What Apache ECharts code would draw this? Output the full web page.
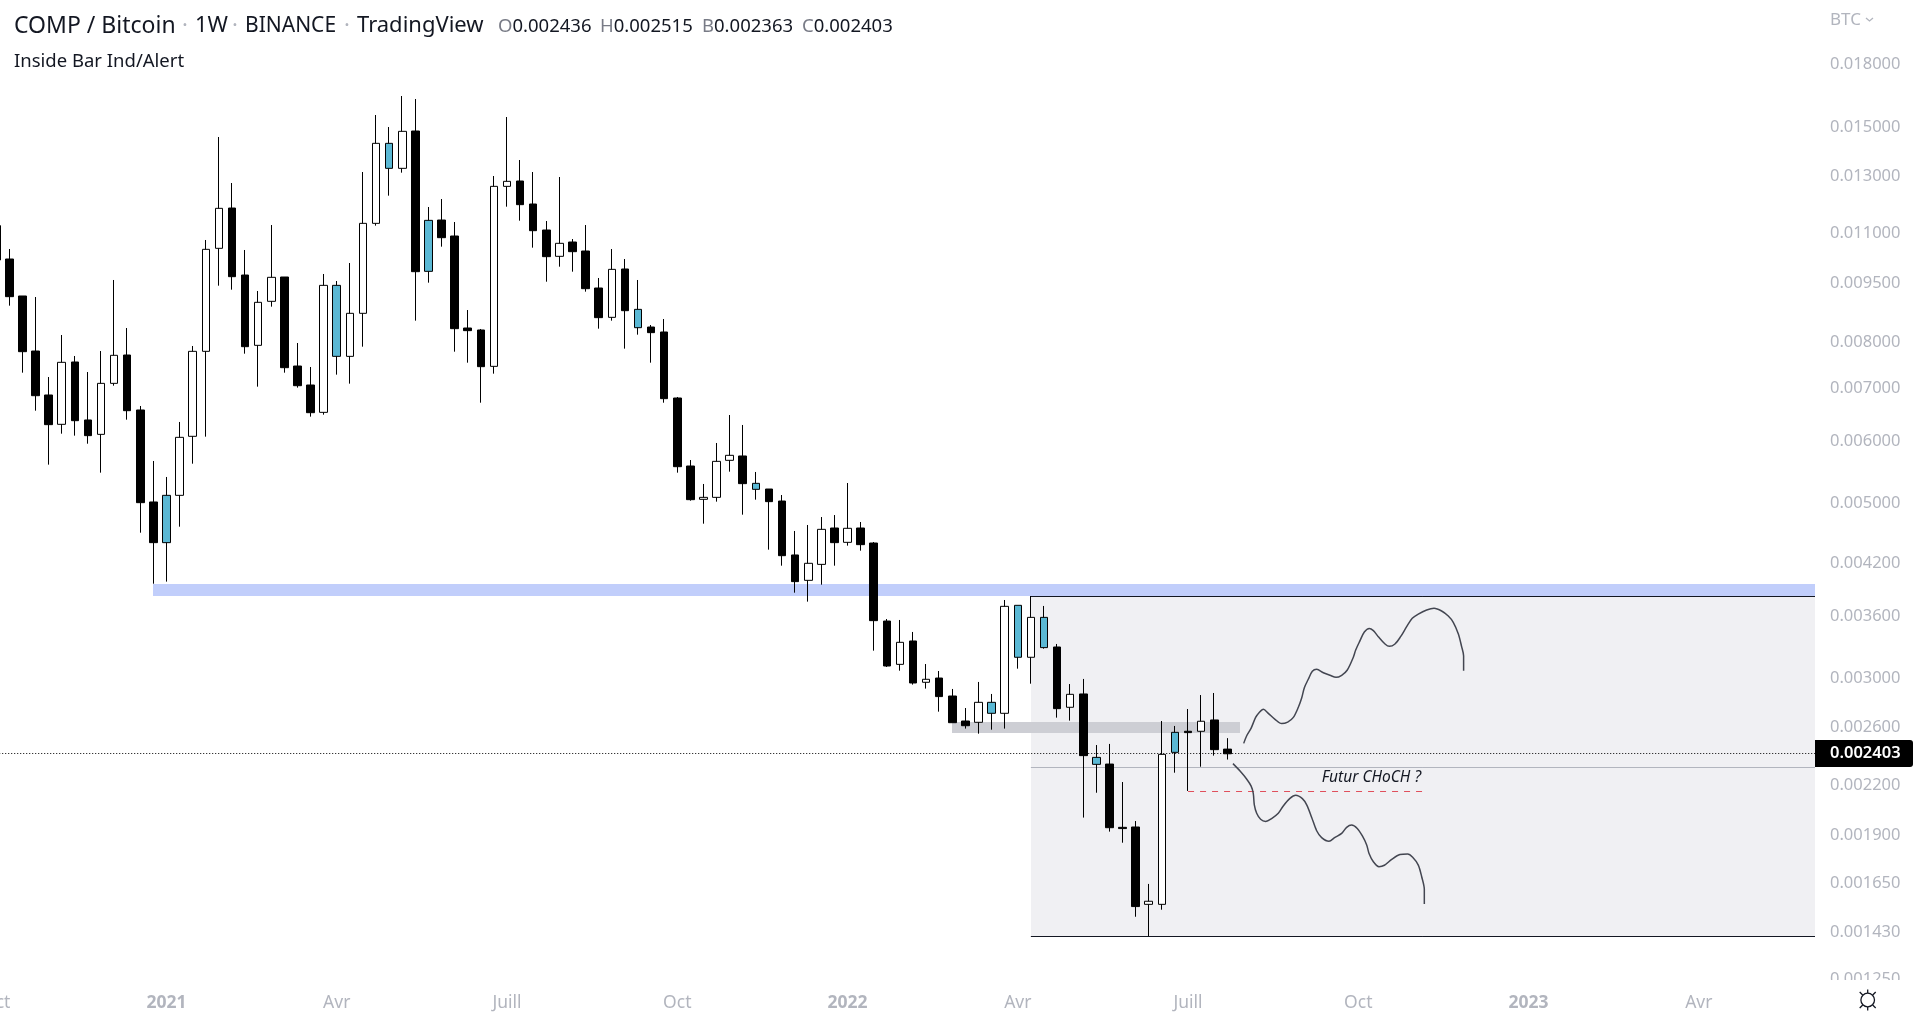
<!DOCTYPE html><html><head><meta charset="utf-8"><script src="https://cdn.jsdelivr.net/npm/echarts@6/dist/echarts.min.js"></script>
<style>html,body{margin:0;background:#fff}#c{width:1920px;height:1014px}</style></head><body><div id="c"></div><script>
const FONT='"Noto Sans"';
const opens=[0.011211,0.010172,0.009132,0.007778,0.006842,0.006281,0.007533,0.006361,0.006100,0.007078,0.007688,0.006549,0.005008,0.004448,0.005106,0.006065,0.007771,0.010494,0.011803,0.009708,0.007908,0.008991,0.009652,0.007445,0.007044,0.006504,0.009420,0.007658,0.008682,0.011287,0.014253,0.013251,0.014775,0.009813,0.011397,0.010878,0.008318,0.008270,0.007438,0.012573,0.012770,0.011942,0.011070,0.010252,0.010689,0.010412,0.009347,0.008581,0.009880,0.008783,0.008342,0.008222,0.006782,0.005562,0.005047,0.005076,0.005655,0.005727,0.005288,0.005201,0.005022,0.004291,0.003985,0.004175,0.004642,0.004452,0.004642,0.004443,0.003539,0.003119,0.003339,0.002960,0.002997,0.002844,0.002644,0.002634,0.002792,0.002704,0.003705,0.003184,0.003577,0.003281,0.002752,0.002861,0.002378,0.002332,0.001939,0.001941,0.001549,0.001549,0.002413,0.002566,0.002566,0.002652,0.002436];
const closes=[0.010143,0.009114,0.007763,0.006828,0.006275,0.007526,0.006348,0.006077,0.007078,0.007681,0.006536,0.004998,0.004448,0.005106,0.006047,0.007771,0.010463,0.011792,0.009661,0.007877,0.008965,0.009643,0.007409,0.007030,0.006498,0.009420,0.007658,0.008682,0.011287,0.014253,0.013251,0.014761,0.009803,0.011386,0.010825,0.008302,0.008254,0.007431,0.012573,0.012758,0.011919,0.011048,0.010242,0.010648,0.010392,0.009329,0.008573,0.009870,0.008749,0.008326,0.008206,0.006769,0.005551,0.005042,0.005076,0.005638,0.005738,0.005283,0.005196,0.005013,0.004282,0.003970,0.004188,0.004624,0.004448,0.004638,0.004422,0.003543,0.003104,0.003326,0.002954,0.002986,0.002839,0.002631,0.002608,0.002792,0.002704,0.003694,0.003184,0.003577,0.003275,0.002741,0.002858,0.002390,0.002330,0.001937,0.001932,0.001539,0.001563,0.002399,0.002558,0.002556,0.002642,0.002432,0.002403];
const lows=[0.010143,0.008878,0.007302,0.006536,0.005584,0.006112,0.006077,0.005936,0.005455,0.007030,0.006367,0.004579,0.003946,0.003970,0.004660,0.005600,0.006059,0.009411,0.009302,0.007718,0.007010,0.008852,0.007302,0.006990,0.006423,0.006460,0.007260,0.007072,0.007877,0.011211,0.012236,0.013084,0.008498,0.009494,0.010545,0.007763,0.007518,0.006690,0.007281,0.011849,0.011375,0.010514,0.009521,0.009947,0.009803,0.009248,0.008302,0.008498,0.007832,0.008158,0.007518,0.006690,0.005455,0.005027,0.004701,0.005013,0.005471,0.004826,0.005042,0.004358,0.004159,0.003844,0.003745,0.003935,0.004159,0.004409,0.004345,0.003246,0.003095,0.003062,0.002940,0.002906,0.002717,0.002631,0.002586,0.002548,0.002578,0.002586,0.003080,0.002948,0.003265,0.002670,0.002647,0.001995,0.002145,0.001915,0.001854,0.001494,0.001412,0.001525,0.002274,0.002156,0.002314,0.002390,0.002363];
const highs=[0.011211,0.010473,0.009132,0.009105,0.007210,0.008150,0.007666,0.007316,0.007778,0.009568,0.008318,0.006626,0.005644,0.005387,0.006324,0.007893,0.010752,0.014519,0.012696,0.010443,0.009266,0.011232,0.009652,0.007962,0.007424,0.009737,0.009540,0.010054,0.013110,0.015481,0.014948,0.016363,0.016220,0.011838,0.012117,0.011331,0.008766,0.008294,0.012958,0.015391,0.013577,0.013110,0.011364,0.012920,0.010783,0.011232,0.009624,0.010473,0.010172,0.009568,0.008391,0.008539,0.006802,0.005660,0.005278,0.005948,0.006454,0.006269,0.005466,0.005201,0.005111,0.004602,0.004683,0.004793,0.004821,0.005293,0.004724,0.004456,0.003560,0.003550,0.003428,0.003122,0.003059,0.002903,0.002746,0.002963,0.002861,0.003763,0.003705,0.003807,0.003698,0.003310,0.002945,0.002989,0.002465,0.002473,0.002213,0.001975,0.001644,0.002644,0.002606,0.002738,0.002852,0.002869,0.002515];
// Index in opens/closes of the inside bars, drawn in teal
const insideBars=[13,26,30,33,49,58,76,78,80,84,90];
const tickLabels={0:'Oct',13:'2021',26:'Avr',39:'Juill',52:'Oct',65:'2022',78:'Avr',91:'Juill',104:'Oct',117:'2023',130:'Avr'};
const priceTicks=[0.018,0.015,0.013,0.011,0.0095,0.008,0.007,0.006,0.005,0.0042,0.0036,0.003,0.0026,0.0022,0.0019,0.00165,0.00143,0.00125];
const lastPrice=0.002403;
// zones: week offset from the first drawn bar minus one, and price bounds
const zoneStarts=[78,11,72];
const zoneEnds=[138,138,94];
const zoneTops=[0.0038071,0.0039427,0.0026364];
const zoneBottoms=[0.0014112,0.0038071,0.0025531];
const levelStarts=[78,78,78,90,-1];
const levelEnds=[138,138,138,108,138];
const levelPrices=[0.0038071,0.0014112,0.0023101,0.002154,lastPrice];
const upPathWeeks=[94.25,94.47,94.81,95.16,95.42,95.75,96.13,96.64,97.15,97.61,98.04,98.42,98.67,98.88,99.18,99.49,99.82,100.33,100.84,101.30,101.73,102.16,102.62,102.80,103.13,103.46,103.84,104.15,104.53,105.04,105.37,105.80,106.23,106.69,107.12,107.58,108.22,108.78,109.36,109.87,110.25,110.64,110.89,111.04,111.04];
const upPathPrices=[0.002477,0.002531,0.002588,0.002672,0.002709,0.002736,0.002704,0.002657,0.002624,0.002636,0.002672,0.002752,0.002825,0.002914,0.002986,0.003056,0.003074,0.003044,0.003021,0.003003,0.003021,0.003068,0.003184,0.003252,0.003342,0.003428,0.003464,0.003441,0.003381,0.003310,0.003287,0.003310,0.003381,0.003481,0.003567,0.003612,0.003655,0.003673,0.003644,0.003591,0.003526,0.003408,0.003284,0.003196,0.003062];
const downPathWeeks=[93.43,93.97,94.47,94.81,94.98,95.06,95.24,95.54,95.93,96.38,96.89,97.27,97.78,98.22,98.73,99.06,99.44,99.82,100.20,100.76,101.22,101.73,102.11,102.49,102.92,103.31,103.64,103.82,104.15,104.58,104.99,105.55,106.18,106.77,107.15,107.58,107.84,108.04,108.04];
const downPathPrices=[0.002335,0.002285,0.002233,0.002188,0.002141,0.002070,0.002020,0.001985,0.001973,0.001989,0.002020,0.002064,0.002110,0.002129,0.002108,0.002070,0.001996,0.001920,0.001882,0.001862,0.001883,0.001905,0.001939,0.001952,0.001933,0.001891,0.001842,0.001797,0.001754,0.001729,0.001736,0.001766,0.001791,0.001794,0.001777,0.001737,0.001679,0.001618,0.001551];

const categories=[];
for(let i=0;i<140;i++){categories.push(new Date(Date.UTC(2020,9,5+7*i)).toISOString().slice(0,10));}
const TEAL='#5ab8d4',GREY='#b2b5be';
const zoneColours=['#f0f0f3','#c1cefb','#cdced4'];
const levelStyles=[{stroke:'#131722',lineWidth:1},{stroke:'#131722',lineWidth:1},{stroke:'#b2b5be',lineWidth:1},{stroke:'#e0505c',lineWidth:1,lineDash:[6,6]},{stroke:'#000',lineWidth:1,lineDash:[1,2]}];
const candles=opens.map((o,i)=>{
  const item={value:[o,closes[i],lows[i],highs[i]]};
  if(insideBars.includes(i))item.itemStyle={color:TEAL,color0:TEAL};
  return item;
});
const snap=v=>Math.floor(v+0.1)+0.5;
const chart=echarts.init(document.getElementById('c'),null,{renderer:'canvas'});
const curve=(w,p)=>({type:'line',xAxisIndex:1,yAxisIndex:0,data:w.map((x,i)=>[x,p[i]]),showSymbol:false,smooth:0.3,z:6,silent:true,lineStyle:{color:'#434651',width:1.5},animation:false});
const TITLE='22px '+FONT;
const dot=x=>({type:'text',z:100,x,y:26,style:{text:'·',font:TITLE,fill:'#b2b5be',align:'center',verticalAlign:'middle'}});
chart.setOption({
  animation:false,backgroundColor:'#ffffff',
  grid:{left:-3.77,top:0,width:1820.47,height:980,containLabel:false,outerBoundsMode:'none'},
  xAxis:[
   {type:'category',data:categories,boundaryGap:false,axisLine:{show:false},axisTick:{show:false},splitLine:{show:false},
    axisLabel:{show:true,interval:i=>tickLabels[i]!==undefined,hideOverlap:false,showMinLabel:true,margin:14,
      formatter:(v,i)=>{const t=tickLabels[i];return /^\d/.test(t)?'{y|'+t+'}':t;},
      color:GREY,fontFamily:FONT,fontSize:17.5,rich:{y:{color:GREY,fontFamily:FONT,fontSize:17.5,fontWeight:'bold'}}}},
   {type:'value',min:-1,max:138,show:false,splitLine:{show:false}}
  ],
  yAxis:[{type:'log',logBase:10,min:0.0012423,max:0.02165,position:'right',axisLabel:{show:false},axisLine:{show:false},axisTick:{show:false},splitLine:{show:false},minorSplitLine:{show:false}}],
  series:[
   {type:'custom',name:'zones',xAxisIndex:1,yAxisIndex:0,z:1,silent:true,clip:false,
    data:zoneStarts.map((s,i)=>[s,zoneEnds[i],zoneTops[i],zoneBottoms[i],i]),
    renderItem:(p,api)=>{const a=api.coord([api.value(0),api.value(2)]),b=api.coord([api.value(1),api.value(3)]);
      const x=Math.round(a[0]),y=Math.round(a[1]);
      return {type:'rect',shape:{x,y,width:Math.min(Math.round(b[0]),1815)-x,height:Math.round(b[1])-y},style:{fill:zoneColours[api.value(4)]}};}},
   {type:'custom',name:'levels',xAxisIndex:1,yAxisIndex:0,z:2,silent:true,clip:false,
    data:levelStarts.map((s,i)=>[s,levelEnds[i],levelPrices[i],i]),
    renderItem:(p,api)=>{const a=api.coord([api.value(0),api.value(2)]),b=api.coord([api.value(1),api.value(2)]);const y=snap(a[1]);
      return {type:'line',shape:{x1:a[0],y1:y,x2:Math.min(b[0],1815),y2:y},style:Object.assign({fill:null},levelStyles[api.value(3)])};}},
   {type:'candlestick',name:'COMP / Bitcoin',xAxisIndex:0,yAxisIndex:0,data:candles,barWidth:8.06,z:5,silent:true,clip:true,
    itemStyle:{color:'#ffffff',color0:'#000000',borderColor:'#000000',borderColor0:'#000000',borderWidth:1}},
   curve(upPathWeeks,upPathPrices),
   curve(downPathWeeks,downPathPrices),
   {type:'custom',name:'annotation',xAxisIndex:1,yAxisIndex:0,z:7,silent:true,clip:false,data:[[104,0.0022457]],
    renderItem:(p,api)=>{const a=api.coord([api.value(0),api.value(1)]);
      return {type:'text',x:a[0],y:a[1]+1,style:{text:'Futur CHoCH ?',fontFamily:FONT,fontStyle:'italic',fontSize:15.5,fill:'#131722',align:'center',verticalAlign:'middle'}};}},
   {type:'custom',name:'priceLabels',xAxisIndex:1,yAxisIndex:0,z:8,silent:true,clip:false,data:priceTicks.map(v=>[138,v]),
    renderItem:(p,api)=>{const a=api.coord([api.value(0),api.value(1)]);
      return {type:'text',x:1830,y:a[1]+1,style:{text:api.value(1).toFixed(6),fontFamily:FONT,fontSize:16.5,fill:GREY,align:'left',verticalAlign:'middle'}};}},
   {type:'custom',name:'lastPriceTag',xAxisIndex:1,yAxisIndex:0,z:9,silent:true,clip:false,data:[[138,lastPrice]],
    renderItem:(p,api)=>{const a=api.coord([api.value(0),api.value(1)]);
      return {type:'group',children:[
        {type:'rect',shape:{x:1815,y:740,width:98,height:27,r:[0,3,3,0]},style:{fill:'#000'}},
        {type:'text',x:1830,y:a[1],style:{text:api.value(1).toFixed(6),fontFamily:FONT,fontSize:16.5,fontWeight:600,fill:'#fff',align:'left',verticalAlign:'middle'}}]};}}
  ],
  graphic:[
   {type:'rect',z:100,shape:{x:1816,y:980,width:104,height:34},style:{fill:'#fff'}},
   {type:'text',z:100,x:14,y:26,style:{text:'COMP / Bitcoin',font:'23px '+FONT,fill:'#131722',verticalAlign:'middle'}},
   dot(185),
   {type:'text',z:100,x:195,y:26,style:{text:'1W',font:TITLE,fill:'#131722',verticalAlign:'middle'}},
   dot(235),
   {type:'text',z:100,x:245,y:26,style:{text:'BINANCE',font:'21px '+FONT,fill:'#131722',verticalAlign:'middle'}},
   dot(347),
   {type:'text',z:100,x:357,y:26,style:{text:'TradingView',font:TITLE,fill:'#131722',verticalAlign:'middle'}},
   ...[['O','0.002436',498],['H','0.002515',600],['B','0.002363',702],['C','0.002403',802]].map(([l,v,x])=>({type:'text',z:100,x,y:27,style:{text:'{l|'+l+'}{v|'+v+'}',verticalAlign:'middle',rich:{l:{fontFamily:FONT,fontSize:18.5,fill:'#787b86'},v:{fontFamily:FONT,fontSize:18.5,fill:'#131722'}}}})),
   {type:'text',z:100,x:14,y:62,style:{text:'Inside Bar Ind/Alert',font:'18.5px '+FONT,fill:'#131722',verticalAlign:'middle'}},
   {type:'text',z:100,x:1830,y:20,style:{text:'BTC',font:'17px '+FONT,fill:GREY,verticalAlign:'middle'}},
   {type:'polyline',z:100,shape:{points:[[1866,18],[1869.5,21],[1873,18]]},style:{stroke:GREY,lineWidth:1.3,fill:null}},
   {type:'group',z:100,x:1867.7,y:1000,children:[
     {type:'circle',z:100,shape:{cx:0,cy:0,r:6.8},style:{stroke:'#131722',lineWidth:1.3,fill:'#fff'}},
     ...[[0,-7,0,-10.5],[0,7,0,10.5],[-5,-5,-8,-8],[5,-5,8,-8],[-5,5,-8,8],[5,5,8,8]].map(s=>({type:'line',z:100,shape:{x1:s[0],y1:s[1],x2:s[2],y2:s[3]},style:{stroke:'#131722',lineWidth:1.3}}))
   ]}
  ]
});
</script></body></html>
